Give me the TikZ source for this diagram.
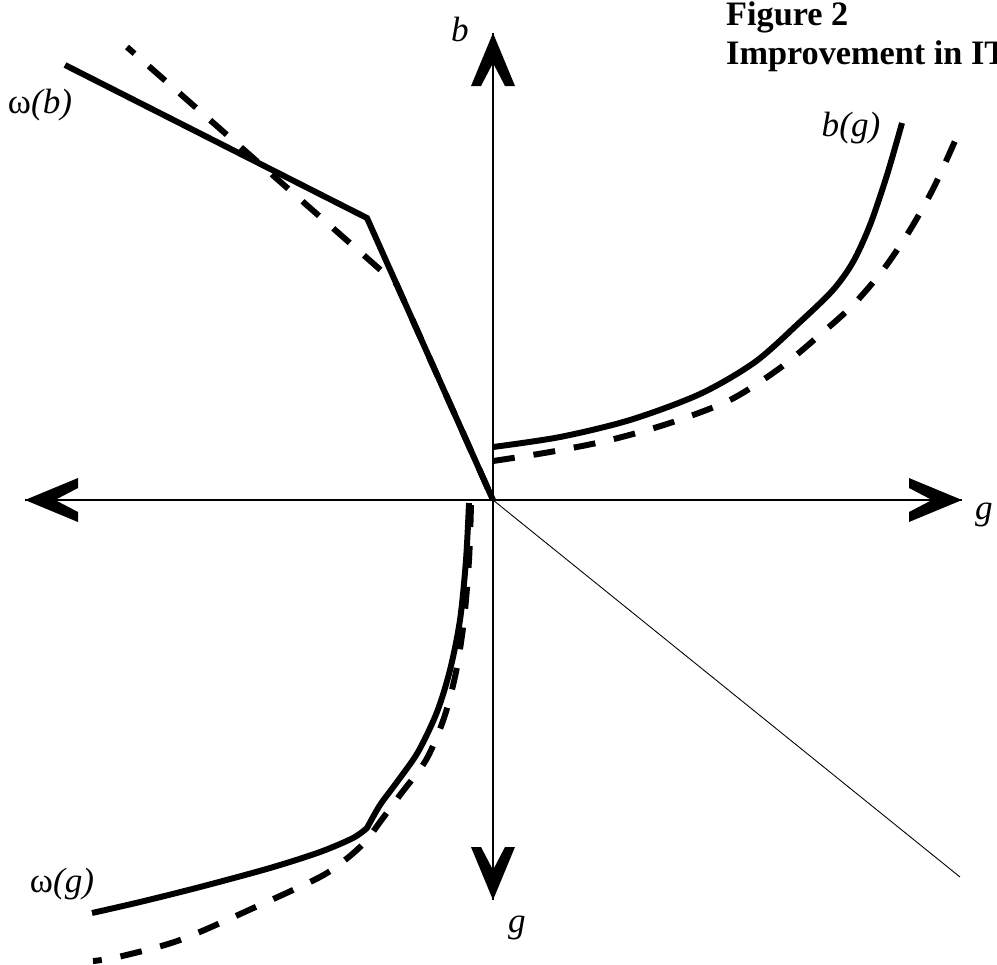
\documentclass[tikz,border=0pt]{standalone}
\usepackage{fontspec}
\setmainfont{Liberation Serif}
\usetikzlibrary{positioning}

% open arrow head of the axes, tip at the origin, pointing up
\tikzset{
  axhead/.pic={\fill (0,0) -- (-22,53) -- (-12,53) -- (0,30) -- (12,53) -- (22,53) -- cycle;}
}

\begin{document}
\begin{tikzpicture}[x=0.02cm, y=-0.02cm,
    axis/.style={line width=0.7pt},
    curve/.style={line width=3.4pt},
    dcurve/.style={line width=3.4pt, dash pattern=on 12.5pt off 10.8pt},
    lbl/.style={font=\fontsize{20}{24}\selectfont},
    title/.style={font=\fontsize{19.5}{23}\selectfont\bfseries, anchor=base west}]
	\fill[white] (0,0) rectangle (997,964);
	\useasboundingbox (0,0) rectangle (997,964);
	\clip (0,0) rectangle (997,964);

	% axes
	\coordinate (O) at (493,500);
	\coordinate (btop) at (493,33);
	\coordinate (gbot) at (493,900);
	\coordinate (gleft) at (25,500);
	\coordinate (gright) at (962,500);
	\coordinate (diagend) at (960,877);

	\draw[axis] (gleft) -- (gright);
	\draw[axis] (gbot) -- (btop);
	\draw[line width=0.5pt] (O) -- (diagend);
	\pic at (btop) {axhead};
	\pic[rotate=90] at (gleft) {axhead};
	\pic[rotate=-90] at (gright) {axhead};
	\pic[rotate=180] at (gbot) {axhead};

	\node[lbl] (blab) at (460,29) {\textit{b}};
	\node[lbl] (grlab) at (984,515) {\textit{g}};
	\node[lbl] (gblab) at (517,928) {\textit{g}};
	\node[title] (figno) at (720,25) {Figure 2};
	\node[title] (figtitle) at (720,64) {Improvement in IT};

	% omega(b)
	\coordinate (wbkink) at (367,218);
	\coordinate (wbmeet) at (396.5,284);
	\draw[curve] (65,65) -- (wbkink) -- (O);
	\draw[dcurve, dash phase=6.8pt] (127,47) -- (wbmeet) -- (O);
	\node[lbl] (wblab) at (40,105) {ω\textit{(b)}};

	% b(g)
	\draw[curve] plot[smooth, tension=0.5] coordinates {(493,447) (560,437) (630,420) (700,394) (755,362) (800,322) (833,290) (853,262) (870,225) (887,175) (902,123)};
	\draw[dcurve] plot[smooth, tension=0.5] coordinates {(493,461) (550,452) (610,440) (670,423) (730,400) (780,368) (822,333) (853,305) (883,270) (910,230) (935,185) (962,125)};
	\node[lbl] (bglab) at (851,128) {\textit{b(g)}};

	% omega(g)
	\draw[curve] plot[smooth, tension=0.5] coordinates {(469,503) (466,560) (460,620) (450,670) (437,712) (418,752) (397,782) (380,805) (367,828)}
		-- plot[smooth, tension=0.5] coordinates {(367,828) (353,838) (320,852) (270,868) (200,887) (140,902) (92,913)};
	\draw[dcurve] plot[smooth, tension=0.5] coordinates {(471,505) (469,560) (464,620) (456,672) (444,718) (426,760) (400,795) (380,822) (365,842) (345,860) (320,877) (260,905) (180,940) (118,957) (93,961)};
	\node[lbl] (wglab) at (62,884) {ω\textit{(g)}};
\end{tikzpicture}
\end{document}
